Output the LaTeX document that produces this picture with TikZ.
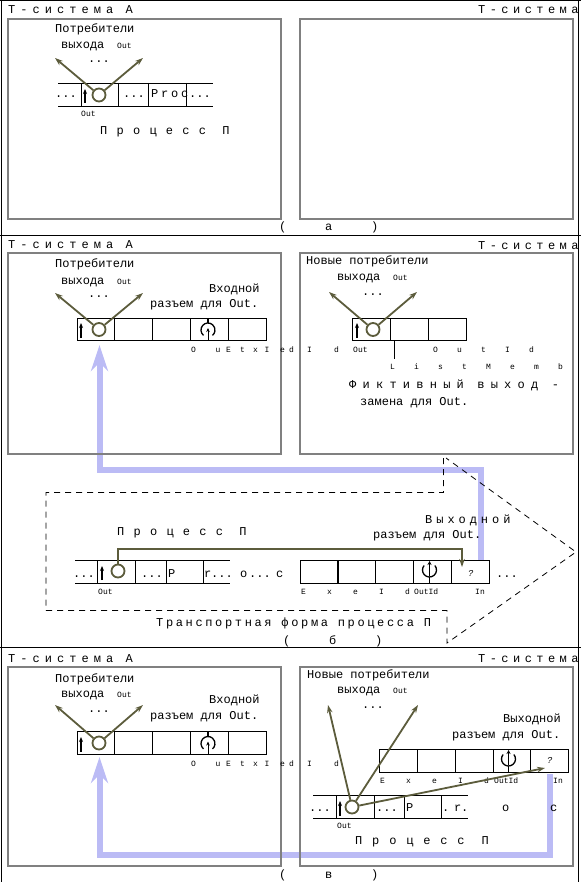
\documentclass[tikz,border=0pt]{standalone}
\usepackage{fontspec}
\setmainfont{Liberation Mono}
\usetikzlibrary{arrows.meta}
\newcommand{\lsp}[2]{{\addfontfeature{LetterSpace=#1}#2}}
\definecolor{olivepen}{RGB}{92,92,60}
\definecolor{bluepen}{RGB}{187,187,245}
\tikzset{
  txt/.style={anchor=base west,inner sep=0pt,font=\fontsize{12}{14}\selectfont},
  smalltxt/.style={anchor=base west,inner sep=0pt,font=\fontsize{8}{9}\selectfont},
  outerline/.style={black,line width=1pt},
  tsys/.style={gray,line width=2pt},
  cell/.style={black,line width=0.9pt},
  circout/.style={circle,draw=olivepen,line width=1.8pt,minimum size=13pt,inner sep=0pt},
  olivearr/.style={olivepen,line width=1.8pt,-{Stealth[length=8pt,width=5.5pt]}},
  bluearr/.style={bluepen,line width=6pt,-{Stealth[length=26pt,width=17pt]}},
  upmark/.style={black,line width=1.6pt,-{Stealth[length=5pt,width=4pt]}},
  plugin/.pic={
    \draw[black,line width=1.3pt] (0,0) ++(130:7) arc[start angle=130,end angle=410,radius=7];
    \draw[black,line width=1.3pt] (0,-12) -- (0,-7);
    \draw[black,line width=0.8pt,-{Stealth[length=4pt,width=3.5pt]}] (0,10) -- (0,-2);
  },
  plugout/.pic={
    \draw[black,line width=1.3pt] (0,0) ++(320:7) arc[start angle=320,end angle=580,radius=7];
    \draw[black,line width=1.3pt] (0,7) -- (0,13);
    \draw[black,line width=1.3pt,-{Stealth[length=4pt,width=4pt]}] (0,6) -- (0,-9);
  },
}
\begin{document}
\begin{tikzpicture}[x=1pt,y=-1pt]
\useasboundingbox (0,0) rectangle (581,882);
% outer frame
\draw[outerline] (1,0) -- (1,882);
\draw[outerline] (578.5,0) -- (578.5,882);
\draw[outerline] (0,0.5) -- (581,0.5);
\draw[outerline] (0,235.5) -- (581,235.5);
\draw[outerline] (0,647.5) -- (581,647.5);
% big arrows
\coordinate (startB) at (481,560);
\coordinate (cornerBa) at (481,470);
\coordinate (cornerBb) at (99.5,470);
\coordinate (tipB) at (99.5,345);
\draw[bluearr] (startB) -- (cornerBa) -- (cornerBb) -- (tipB);
\coordinate (startC) at (550,774);
\coordinate (cornerCa) at (550,855);
\coordinate (cornerCb) at (99.5,855);
\coordinate (tipC) at (99.5,757);
\draw[bluearr] (startC) -- (cornerCa) -- (cornerCb) -- (tipC);
% T-systems
\draw[tsys] (8,19) rectangle (281,219);
\draw[tsys] (300,19) rectangle (572.5,219);
\draw[tsys] (8,253) rectangle (281,454);
\draw[tsys] (300,253) rectangle (572.5,454);
\draw[tsys] (8,667) rectangle (281,866);
\draw[tsys] (300,667) rectangle (572.5,866);
% transport form
\draw[black,line width=0.8pt,dash pattern=on 6pt off 5pt] (443.5,458) -- (443.5,492.5) -- (46,492.5) -- (46,610.5) -- (447,610.5) -- (447,643) -- (576,552) -- (446,458);

% panel a
\node[txt] (tA1) at (8,14) {\lsp{42}{Т-система А}};
\node[txt] (tB1) at (478,14) {\lsp{37}{Т-система}};
\node[txt] (consA1) at (55,33) {Потребители};
\node[txt] (consB1) at (61,49) {выхода};
\node[smalltxt] (consC1) at (117,49) {Out};
\node[txt] (dotsA1) at (88,63) {...};
\draw[cell] (58,83) -- (213,83);
\draw[cell] (58,106) -- (213,106);
\draw[cell] (81,83) -- (81,106);
\draw[cell] (118,83) -- (118,106);
\draw[cell] (148,83) -- (148,106);
\draw[cell] (186,83) -- (186,106);
\node[circout] (circA) at (99,95) {};
\coordinate (leftA) at (55,58);
\coordinate (rightA) at (143,58);
\draw[olivearr] (circA) -- (leftA);
\draw[olivearr] (circA) -- (rightA);
\draw[upmark] (85,103) -- (85,89);
\node[txt] (dotsA2) at (55,98) {...};
\node[txt] (dotsA3) at (123,98) {...};
\node[txt] (procA) at (151,98) {\lsp{23}{Proc}};
\node[txt] (dotsA4) at (189,98) {...};
\node[smalltxt] (outA) at (81,117) {Out};
\node[txt] (nameA) at (100,135) {\lsp{77}{Процесс П}};
\node[txt] (capA) at (279,231) {\lsp{323}{(а)}};

% panel b, top
\node[txt] (tA2) at (8,249) {\lsp{42}{Т-система А}};
\node[txt] (tB2) at (478,250) {\lsp{37}{Т-система}};
\node[txt] (consA2) at (55,268) {Потребители};
\node[txt] (consB2) at (61,284) {выхода};
\node[smalltxt] (consC2) at (117,284) {Out};
\node[txt] (dotsB1) at (88,298) {...};
\node[txt] (inpA2) at (209,292) {Входной};
\node[txt] (inpB2) at (150,307) {разъем для Out.};
\draw[cell] (77.5,318) rectangle (266.5,340.5);
\draw[cell] (114.5,318) -- (114.5,340.5);
\draw[cell] (152.5,318) -- (152.5,340.5);
\draw[cell] (190.5,318) -- (190.5,340.5);
\draw[cell] (228.5,318) -- (228.5,340.5);
\node[circout] (circB) at (99,329.5) {};
\coordinate (leftB) at (55,293);
\coordinate (rightB) at (143,293);
\draw[olivearr] (circB) -- (leftB);
\draw[olivearr] (circB) -- (rightB);
\draw[upmark] (81,338) -- (81,323);
\pic at (208,330) {plugin};
\node[smalltxt] (outIdB) at (191,352) {\lsp{246}{OutId}};
\node[smalltxt] (exeIdB) at (226,352) {\lsp{277}{ExeId}};
\node[txt] (consD2) at (306,265) {Новые потребители};
\node[txt] (consE2) at (337,280) {выхода};
\node[smalltxt] (consF2) at (393,280) {Out};
\node[txt] (dotsB2) at (362,295) {...};
\draw[cell] (352.5,318) rectangle (466.5,340.5);
\draw[cell] (390.5,318) -- (390.5,340.5);
\draw[cell] (428.5,318) -- (428.5,340.5);
\node[circout] (circNew) at (373,329.5) {};
\coordinate (leftNew) at (329,292);
\coordinate (rightNew) at (417,292);
\draw[olivearr] (circNew) -- (leftNew);
\draw[olivearr] (circNew) -- (rightNew);
\draw[upmark] (357,338) -- (357,323);
\node[smalltxt] (outNew) at (353,352) {Out};
\node[smalltxt] (outIdNew) at (433,352) {\lsp{240}{OutId}};
\node[smalltxt] (listNew) at (390,369) {\lsp{240}{ListMemb}};
\coordinate (listTop) at (394,340);
\coordinate (listEnd) at (394,359);
\draw[cell] (listTop) -- (listEnd);
\node[txt] (fakeA) at (349,388) {\lsp{52}{Фиктивный выход -}};
\node[txt] (fakeB) at (360,405) {замена для  Out.};

% panel b, transport form
\node[txt] (nameB) at (117,535) {\lsp{77}{Процесс П}};
\node[txt] (outA2) at (425,523) {\lsp{33}{Выходной}};
\node[txt] (outB2) at (373,538) {разъем для Out.};
\draw[cell] (75,560) -- (230,560);
\draw[cell] (75,583) -- (230,583);
\draw[cell] (97.5,560) -- (97.5,583);
\draw[cell] (135.5,560) -- (135.5,583);
\draw[cell] (166.5,560) -- (166.5,583);
\draw[cell] (203,560) -- (203,583);
\draw[cell] (300.5,560) rectangle (489.5,583);
\draw[black,line width=1.8pt] (338,560) -- (338,583);
\draw[cell] (375.5,560) -- (375.5,583);
\draw[cell] (413.5,560) -- (413.5,583);
\draw[cell] (451.5,560) -- (451.5,583);
\node[circout] (circT) at (118,571) {};
\coordinate (cornerTa) at (118,549);
\coordinate (cornerTb) at (462,549);
\coordinate (tipT) at (462,567);
\draw[olivearr,line width=2pt] (circT) -- (cornerTa) -- (cornerTb) -- (tipT);
\draw[upmark] (102,580) -- (102,566);
\pic at (429.5,570) {plugout};
\node[txt] (dotsT1) at (73,577) {...};
\node[txt] (dotsT2) at (141,577) {...};
\node[txt] (procT) at (168,577) {\lsp{240}{Proc}};
\node[txt] (dotsT3) at (211,577) {...};
\node[txt] (dotsT4) at (249,577) {...};
\node[txt] (dotsT5) at (496,577) {...};
\node[smalltxt,font=\fontsize{9}{10}\selectfont\itshape] (askT) at (468,576) {?};
\node[smalltxt] (outT) at (98,594) {Out};
\node[smalltxt] (exeIdT) at (301,594) {\lsp{265}{ExeId}};
\node[smalltxt] (outIdT) at (414,594) {OutId};
\node[smalltxt] (inT) at (475,594) {In};
\node[txt] (transp) at (156,626) {\lsp{22}{Транспортная форма процесса П}};
\node[txt] (capB) at (283,644) {\lsp{323}{(б)}};

% panel c
\node[txt] (tA3) at (8,662) {\lsp{42}{Т-система А}};
\node[txt] (tB3) at (478,662) {\lsp{37}{Т-система}};
\node[txt] (consA3) at (55,682) {Потребители};
\node[txt] (consB3) at (61,697) {выхода};
\node[smalltxt] (consC3) at (117,697) {Out};
\node[txt] (dotsC1) at (88,712) {...};
\node[txt] (inpA3) at (209,703) {Входной};
\node[txt] (inpB3) at (150,719) {разъем для Out.};
\draw[cell] (77.5,731.5) rectangle (266.5,754);
\draw[cell] (114.5,731.5) -- (114.5,754);
\draw[cell] (152.5,731.5) -- (152.5,754);
\draw[cell] (190.5,731.5) -- (190.5,754);
\draw[cell] (228.5,731.5) -- (228.5,754);
\node[circout] (circC) at (99,743) {};
\coordinate (leftC) at (55,705);
\coordinate (rightC) at (143,705);
\draw[olivearr] (circC) -- (leftC);
\draw[olivearr] (circC) -- (rightC);
\draw[upmark] (81,752) -- (81,737);
\pic at (208,743.5) {plugin};
\node[smalltxt] (outIdC) at (191,766) {\lsp{246}{OutId}};
\node[smalltxt] (exeIdC) at (226,766) {\lsp{277}{ExeId}};
\node[txt] (consD3) at (307,678) {Новые потребители};
\node[txt] (consE3) at (337,693) {выхода};
\node[smalltxt] (consF3) at (393,693) {Out};
\node[txt] (dotsC2) at (362,708) {...};
\node[txt] (outA3) at (503,722) {Выходной};
\node[txt] (outB3) at (452,738) {разъем для Out.};
\draw[cell] (379.5,749.5) rectangle (568.5,772);
\draw[cell] (417.5,749.5) -- (417.5,772);
\draw[cell] (455.5,749.5) -- (455.5,772);
\draw[cell] (493.5,749.5) -- (493.5,772);
\draw[cell] (530.5,749.5) -- (530.5,772);
\pic at (508.5,759) {plugout};
\node[smalltxt,font=\fontsize{9}{10}\selectfont\itshape] (askC) at (547,763) {?};
\node[smalltxt] (exeIdD) at (380,783) {\lsp{265}{ExeId}};
\node[smalltxt] (outIdD) at (494,783) {OutId};
\node[smalltxt] (inD) at (553,783) {In};
\draw[cell] (313,795) -- (468,795);
\draw[cell] (313,818) -- (468,818);
\draw[cell] (336,795) -- (336,818);
\draw[cell] (374.5,795) -- (374.5,818);
\draw[cell] (404.5,795) -- (404.5,818);
\draw[cell] (441.5,795) -- (441.5,818);
\node[circout] (circM) at (352,807) {};
\coordinate (leftM) at (328,705);
\coordinate (rightM) at (418,705);
\coordinate (plugM) at (545,768);
\draw[olivearr] (circM) -- (leftM);
\draw[olivearr] (circM) -- (rightM);
\draw[olivearr] (circM) -- (plugM);
\draw[upmark] (340,816) -- (340,801);
\node[txt] (dotsM1) at (309,811) {...};
\node[txt] (dotsM2) at (376,811) {...};
\node[txt] (procM) at (406,811) {\lsp{340}{Proc}};
\node[txt] (dotsM3) at (442,811) {.};
\node[txt] (dotsM4) at (461,811) {.};
\node[smalltxt] (outM) at (337,828) {Out};
\node[txt] (nameM) at (355,844) {\lsp{82}{Процесс П}};
\node[txt] (capC) at (279,878) {\lsp{323}{(в)}};
\end{tikzpicture}
\end{document}
